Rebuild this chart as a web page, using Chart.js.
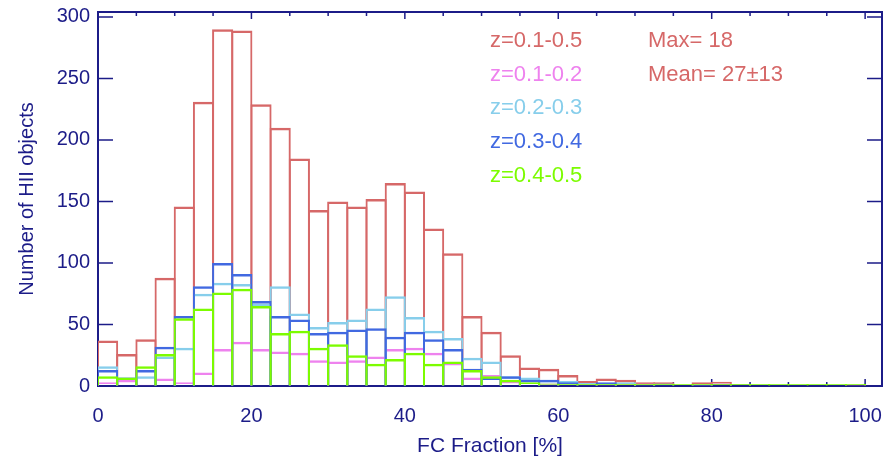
<!DOCTYPE html>
<html lang="en">
<head>
<meta charset="UTF-8">
<title>FC Fraction histogram</title>
<script src="https://cdn.jsdelivr.net/npm/chart.js@4"></script>
<style>
  html, body { margin: 0; padding: 0; background: #fff; }
  #wrap { width: 884px; height: 459px; }
</style>
</head>
<body>
<div id="wrap"><canvas id="histChart" width="884" height="459"></canvas></div>
<script>
// bin centres, 2.5% wide bins
const binCenters = [1.25, 3.75, 6.25, 8.75, 11.25, 13.75, 16.25, 18.75, 21.25, 23.75,
  26.25, 28.75, 31.25, 33.75, 36.25, 38.75, 41.25, 43.75, 46.25, 48.75,
  51.25, 53.75, 56.25, 58.75, 61.25, 63.75, 66.25, 68.75, 71.25, 73.75,
  76.25, 78.75, 81.25, 83.75, 86.25, 88.75, 91.25, 93.75, 96.25, 98.75];

const countAll = [37, 26, 38, 88, 146, 231, 290, 289, 229, 210, 185, 143, 150, 146, 152, 165, 158, 128, 108, 57,
  44, 25, 15, 14, 9, 4, 6, 5, 3, 3, 0, 3, 3.5, 1.5, 0, 0, 0, 0, 0, 1];
const countZ12 = [3, 5, 1, 6, 3, 11, 30, 36, 30, 28, 27, 21, 20, 21, 24, 30, 31, 27, 19, 7,
  9, 4, 0, 2, 0.5, 0, 1, 2, 2, 0, 0, 1, 2, 0, 0, 0, 0, 0, 0, 1];
const countZ23 = [16, 7, 8, 24, 31, 75, 84, 83, 67, 81, 59, 48, 52, 54, 63, 73, 56, 45, 39, 23,
  20, 8, 7, 5, 4, 2.5, 2, 3, 1, 2, 0, 1, 0, 1.5, 0, 0, 0, 0, 0, 0];
const countZ34 = [13, 7, 13, 32, 57, 81, 100, 91, 69, 57, 54, 43, 44, 46, 47, 40, 44, 38, 30, 14,
  7, 8, 5, 5, 3, 1, 3, 0, 0, 1, 0, 1, 1.5, 0, 0, 0, 0, 0, 0, 0];
const countZ45 = [8, 7, 16, 26, 55, 63, 76, 79, 65, 43, 45, 31, 34, 25, 18, 22, 27, 18, 20, 13,
  8, 5, 3, 2, 1.5, 0.5, 0, 0, 0, 0, 0, 0, 0, 0, 0, 0, 0, 0, 0, 0];

const seriesLabels = ['z=0.1-0.5', 'z=0.1-0.2', 'z=0.2-0.3', 'z=0.3-0.4', 'z=0.4-0.5'];
const seriesColors = ['#d66868', '#ee82ee', '#87ceeb', '#4169e1', '#7cfc00'];
const statLines = ['Max= 18', 'Mean= 27\u00b113'];

const axisColor = '#1c1c88';
const fontFamily = '"Liberation Sans", Arial, Helvetica, sans-serif';

function toPoints(values) {
  return values.map((v, i) => ({ x: binCenters[i], y: v }));
}

function makeSet(idx, values, extra) {
  return Object.assign({
    label: seriesLabels[idx],
    data: toPoints(values),
    backgroundColor: 'rgba(0,0,0,0)',
    borderColor: seriesColors[idx],
    borderWidth: { top: 2.5, left: 2, right: 2, bottom: 0 },
    borderSkipped: 'start',
    grouped: false,
    categoryPercentage: 1,
    barPercentage: 1.104,
    order: 5 - idx
  }, extra || {});
}

// box and inward tick marks, like the original plot frame
const framePlugin = {
  id: 'frame',
  beforeDatasetsDraw(chart) {
    const { ctx, chartArea: a, scales } = chart;
    ctx.save();
    ctx.strokeStyle = axisColor;
    ctx.lineWidth = 2;
    ctx.strokeRect(a.left, a.top, a.right - a.left, a.bottom - a.top);
    ctx.lineWidth = 1.5;
    ctx.beginPath();
    scales.x.ticks.forEach(t => {
      const px = scales.x.getPixelForValue(t.value);
      const len = t.value % 20 === 0 ? 7 : 4;
      ctx.moveTo(px, a.bottom); ctx.lineTo(px, a.bottom - len);
      ctx.moveTo(px, a.top); ctx.lineTo(px, a.top + len);
    });
    scales.y.ticks.forEach(t => {
      const py = scales.y.getPixelForValue(t.value);
      ctx.moveTo(a.left, py); ctx.lineTo(a.left + 15, py);
      ctx.moveTo(a.right, py); ctx.lineTo(a.right - 15, py);
    });
    ctx.stroke();
    ctx.restore();
  },
  afterDraw(chart) {
    const { ctx, chartArea: a } = chart;
    ctx.save();
    ctx.font = '22px ' + fontFamily;
    ctx.textBaseline = 'middle';
    ctx.textAlign = 'left';
    seriesLabels.forEach((txt, i) => {
      ctx.fillStyle = seriesColors[i];
      ctx.fillText(txt, a.left + 392, a.top + 29 + i * 33.7);
    });
    ctx.fillStyle = seriesColors[0];
    statLines.forEach((txt, i) => {
      ctx.fillText(txt, a.left + 550, a.top + 29 + i * 33.7);
    });
    ctx.restore();
  }
};

new Chart(document.getElementById('histChart'), {
  type: 'bar',
  data: {
    datasets: [
      makeSet(0, countAll),
      makeSet(1, countZ12),
      makeSet(2, countZ23),
      makeSet(3, countZ34),
      makeSet(4, countZ45, { minBarLength: 2 })
    ]
  },
  options: {
    responsive: false,
    animation: false,
    devicePixelRatio: 1,
    layout: { padding: { top: 12, right: 2, left: 0, bottom: 0 } },
    plugins: {
      legend: { display: false },
      tooltip: { enabled: false }
    },
    scales: {
      x: {
        type: 'linear',
        min: 0,
        max: 102.2,
        offset: false,
        border: { display: false },
        grid: { offset: false, drawOnChartArea: false, drawTicks: true, tickLength: 18, tickColor: 'rgba(0,0,0,0)' },
        ticks: {
          stepSize: 5,
          includeBounds: false,
          autoSkip: false,
          maxRotation: 0,
          padding: 0,
          color: axisColor,
          font: { family: fontFamily, size: 20 },
          callback: v => (v % 20 === 0 ? String(v) : '')
        },
        title: {
          display: true,
          text: 'FC Fraction [%]',
          color: axisColor,
          font: { family: fontFamily, size: 21, lineHeight: 1.2 },
          padding: { top: 0, bottom: 0 }
        },
        afterFit(scale) { scale.height = 73; }
      },
      y: {
        min: 0,
        max: 304,
        border: { display: false },
        grid: { drawOnChartArea: false, drawTicks: true, tickLength: 8, tickColor: 'rgba(0,0,0,0)' },
        ticks: {
          stepSize: 50,
          includeBounds: false,
          padding: 0,
          color: axisColor,
          font: { family: fontFamily, size: 20, lineHeight: 1 }
        },
        title: {
          display: true,
          text: 'Number of HII objects',
          color: axisColor,
          font: { family: fontFamily, size: 20, lineHeight: 1.2 },
          padding: { top: 15, bottom: 0 }
        },
        afterFit(scale) { scale.width = 98; }
      }
    }
  },
  plugins: [framePlugin]
});
</script>
</body>
</html>
